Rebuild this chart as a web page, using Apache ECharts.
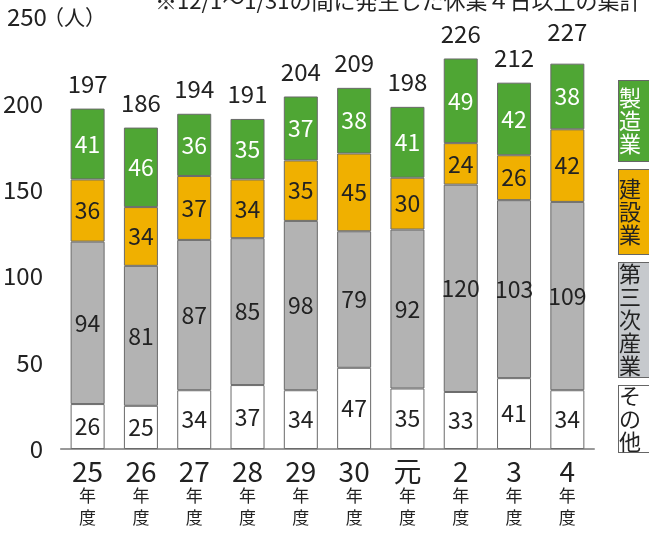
<!DOCTYPE html>
<html>
<head>
<meta charset="utf-8">
<script src="https://cdn.jsdelivr.net/npm/echarts@6/dist/echarts.min.js"></script>
<style>html,body{margin:0;padding:0;background:#fff}#c{width:649px;height:536px}</style>
</head>
<body>
<div id="c"></div>
<script>
const years = ['25','26','27','28','29','30','元','2','3','4'];
const other = [26,25,34,37,34,47,35,33,41,34];
const tertiary = [94,81,87,85,98,79,92,120,103,109];
const construction = [36,34,37,34,35,45,30,24,26,42];
const manufacturing = [41,46,36,35,37,38,41,49,42,38];
const totals = [197,186,194,191,204,209,198,226,212,227];
const yTicks = [0,50,100,150,200,250];

const FONT = "'Liberation Sans Narrow','Arial Narrow','Noto Sans CJK JP',sans-serif";
const JP = "'Noto Sans CJK JP',sans-serif";

const chart = echarts.init(document.getElementById('c'), null, {renderer:'canvas'});
const border = {borderColor:'#6a6a6a', borderWidth:1};
function seg(name, data, color, textColor){
  return {
    name, type:'bar', stack:'s', data, barWidth:34,
    itemStyle:Object.assign({color}, border),
    label:{show:true, position:'inside', color:textColor, fontFamily:FONT, fontSize:23},
    emphasis:{disabled:true}
  };
}
function legendItem(name, bg, fg, h){
  return {name, textStyle:{color:fg, backgroundColor:bg, borderColor:'#666', borderWidth:1,
    width:33, height:h, align:'center', verticalAlign:'middle', lineHeight:23, fontSize:22, fontFamily:JP, padding:0}};
}
chart.setOption({
  animation:false,
  title:{text:'※12/1～1/31の間に発生した休業４日以上の集計', left:150, top:-15,
    textStyle:{fontFamily:JP, fontSize:22, fontWeight:'normal', color:'#222'}},
  grid:{left:58, right:55, top:17, bottom:87},
  legend:{
    orient:'vertical', left:608, top:75, itemWidth:0, itemHeight:0, itemGap:7,
    selectedMode:false,
    formatter:n=>n.split('').join('\n'),
    data:[
      legendItem('製造業','#4fa634','#fff',80),
      legendItem('建設業','#f0b000','#222',84),
      legendItem('第三次産業','#c6c9cd','#222',114),
      legendItem('その他','#fff','#222',66)
    ]
  },
  xAxis:{
    type:'category', data:years,
    axisLine:{lineStyle:{color:'#999', width:2}},
    axisTick:{show:false},
    axisLabel:{margin:8, color:'#222', interval:0,
      formatter:v=>'{n|'+v+'}\n{k|年}\n{k|度}',
      rich:{n:{fontFamily:FONT, fontSize:28, lineHeight:28, color:'#222'},
            k:{fontFamily:JP, fontSize:17, lineHeight:22, color:'#222'}}}
  },
  yAxis:{
    type:'value', min:0, max:250, interval:50,
    splitLine:{show:false}, axisLine:{show:false}, axisTick:{show:false},
    axisLabel:{align:'left', margin:50, color:'#222',
      formatter:v=> v===250 ? '{n|'+v+'}{p|（人）}' : '{n|'+v+'}',
      rich:{n:{fontFamily:FONT, fontSize:24, width:32, align:'right', color:'#222'},
            p:{fontFamily:JP, fontSize:21, color:'#222'}}}
  },
  series:[
    seg('その他', other, '#ffffff', '#222'),
    seg('第三次産業', tertiary, '#b3b3b3', '#222'),
    seg('建設業', construction, '#f0b000', '#222'),
    seg('製造業', manufacturing, '#4fa634', '#fff'),
    {name:'合計', type:'bar', data:totals, barWidth:34, barGap:'-100%', z:1,
     itemStyle:{color:'rgba(0,0,0,0)'},
     label:{show:true, position:'top', distance:13, color:'#222', fontFamily:FONT, fontSize:24},
     emphasis:{disabled:true}}
  ]
});
</script>
</body>
</html>
